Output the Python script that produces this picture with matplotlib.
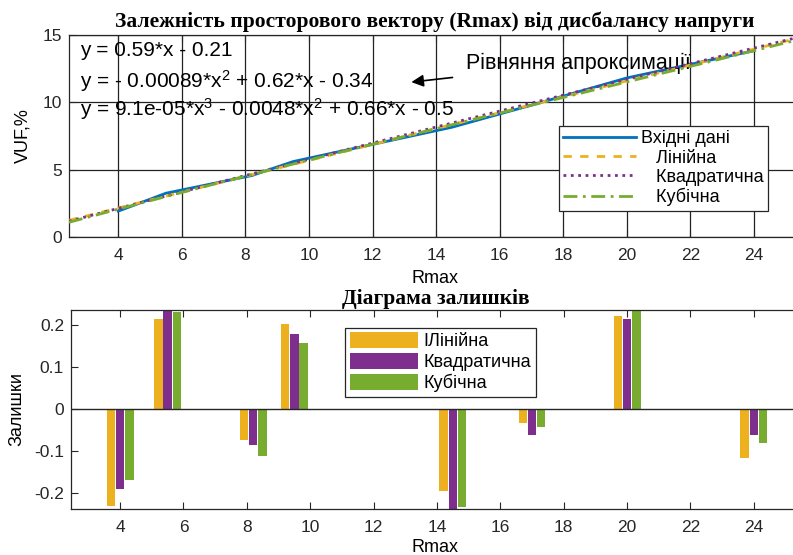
import numpy as np
import matplotlib.pyplot as plt

plt.rcParams['font.family'] = ['Liberation Sans', 'DejaVu Sans']
plt.rcParams['mathtext.fontset'] = 'custom'
plt.rcParams['mathtext.rm'] = 'Liberation Sans'
plt.rcParams['mathtext.it'] = 'Liberation Sans:italic'

# measured points
rmax = [4, 5.5, 8.2, 9.5, 14.5, 17, 20, 24]
vuf = [1.92, 3.25, 4.56, 5.60, 8.15, 9.79, 11.81, 13.83]

# fit coefficients (highest power first)
p_lin = [0.59, -0.21]
p_quad = [-0.00089, 0.62, -0.34]
p_cub = [9.1e-05, -0.0048, 0.66, -0.5]

# residuals for each fit
res_lin = [-0.231, 0.216, -0.073, 0.202, -0.195, -0.032, 0.221, -0.116]
res_quad = [-0.189, 0.236, -0.086, 0.178, -0.237, -0.062, 0.215, -0.062]
res_cub = [-0.168, 0.232, -0.111, 0.157, -0.232, -0.042, 0.236, -0.081]

eq_lines = ['y = 0.59*x - 0.21',
            'y = - 0.00089*x$^2$ + 0.62*x - 0.34',
            'y = 9.1e-05*x$^3$ - 0.0048*x$^2$ + 0.66*x - 0.5']

c_blue = '#0072BD'
c_yel = '#EDB120'
c_pur = '#7E2F8E'
c_grn = '#77AC30'
ax_col = '#262626'

xlim = (2.45, 25.45)
xticks = np.arange(4, 25, 2)

fig = plt.figure(figsize=(7.93, 5.55), dpi=100)
ax1 = fig.add_axes([0.087, 0.573, 0.922, 0.364])
ax2 = fig.add_axes([0.0895, 0.083, 0.919, 0.359])

for ax in (ax1, ax2):
    for s in ax.spines.values():
        s.set_color(ax_col)
        s.set_linewidth(0.9)
    ax.tick_params(direction='in', length=5, width=0.8, labelsize=12.5,
                   colors=ax_col, top=True, right=True, labelcolor='#262626')
    ax.tick_params(axis='x', pad=8)
    ax.tick_params(axis='y', pad=5)
    ax.set_xlim(*xlim)
    ax.set_xticks(xticks)

# --- upper plot: data and fits ---
xf = np.linspace(xlim[0], xlim[1], 300)
ax1.plot(rmax, vuf, color=c_blue, lw=2, label='Вхідні дані', zorder=3)
ax1.plot(xf, np.polyval(p_lin, xf), '--', color=c_yel, lw=2,
         dashes=(3, 3), label='   Лінійна', zorder=4)
ax1.plot(xf, np.polyval(p_quad, xf), ':', color=c_pur, lw=2,
         label='   Квадратична', zorder=5)
ax1.plot(xf, np.polyval(p_cub, xf), '-.', color=c_grn, lw=2,
         dashes=(5, 2, 1, 2), label='   Кубічна', zorder=6)
ax1.set_ylim(0, 15)
ax1.set_yticks([0, 5, 10, 15])
ax1.grid(True, color='#222222', lw=0.9)
ax1.set_axisbelow(True)
ax1.set_xlabel('Rmax', fontsize=13, labelpad=5)
ax1.set_ylabel('VUF,%', fontsize=13, labelpad=8)
ax1.set_title('Залежність просторового вектору (Rmax) від дисбалансу напруги',
              family='Liberation Serif', fontweight='bold', fontsize=15.5, pad=6)

for yy, s in zip([13.85, 11.55, 9.5], eq_lines):
    ax1.text(2.81, yy, s, fontsize=15, va='center', ha='left', color='k')

ax1.annotate('Рівняння апроксимації', xy=(13.22, 11.5), xytext=(14.95, 12.9),
             fontsize=15.5, va='center', ha='left',
             arrowprops=dict(arrowstyle='-|>', color='k', lw=1.2,
                             mutation_scale=18, shrinkA=8, shrinkB=0))

leg1 = ax1.legend(loc='upper left', bbox_to_anchor=(0.670, 0.55), fontsize=13,
                  handlelength=4.0, handletextpad=0.3, borderpad=0.25,
                  labelspacing=0.12, fancybox=False, framealpha=1,
                  edgecolor=ax_col, borderaxespad=0)
leg1.get_frame().set_linewidth(0.9)

# --- lower plot: residual bars ---
w = 0.27
off = 0.29
x = np.array(rmax)
ax2.bar(x - off, res_lin, w, color=c_yel, label='ІЛінійна', zorder=2)
ax2.bar(x, res_quad, w, color=c_pur, label='Квадратична', zorder=2)
ax2.bar(x + off, res_cub, w, color=c_grn, label='Кубічна', zorder=2)
ax2.axhline(0, color=ax_col, lw=1.0, zorder=3)
ax2.set_ylim(-0.237, 0.237)
ax2.set_yticks([-0.2, -0.1, 0, 0.1, 0.2])
ax2.set_yticklabels(['-0.2', '-0.1', '0', '0.1', '0.2'])
ax2.set_xlabel('Rmax', fontsize=13, labelpad=3)
ax2.set_ylabel('Залишки', fontsize=13, labelpad=6)
ax2.set_title('Діаграма залишків', family='Liberation Serif',
              fontweight='bold', fontsize=15.5, pad=4)

leg2 = ax2.legend(loc='upper left', bbox_to_anchor=(0.376, 0.91), fontsize=13,
                  handlelength=3.8, handleheight=1.0, handletextpad=0.3,
                  borderpad=0.25, labelspacing=0.15, fancybox=False,
                  framealpha=1, edgecolor=ax_col, borderaxespad=0)
leg2.get_frame().set_linewidth(0.9)

fig.savefig('out.png', dpi=100)
